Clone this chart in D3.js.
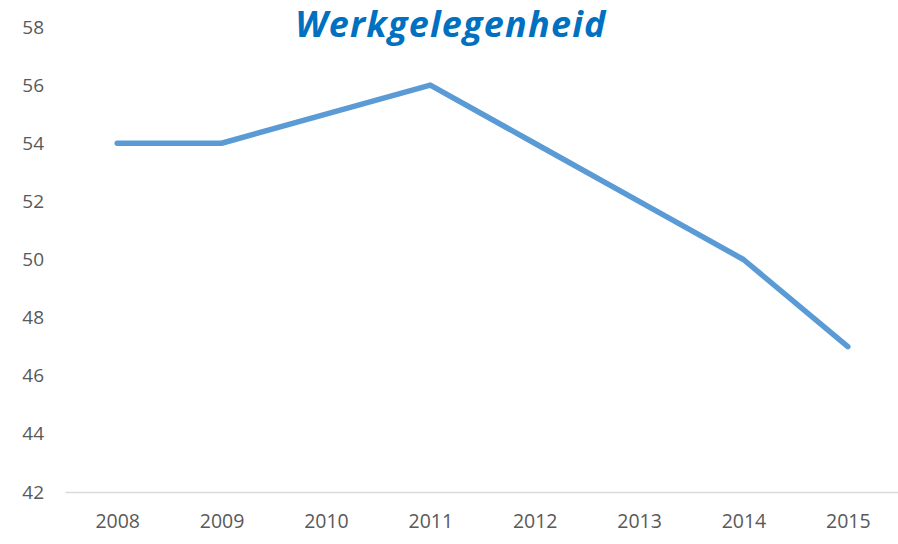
<!DOCTYPE html>
<html><head><meta charset="utf-8">
<script src="https://cdn.jsdelivr.net/npm/d3@7"></script>
<style>body{margin:0;background:#fff}svg{display:block}</style>
</head><body>
<svg id="c" width="898" height="544"></svg>
<script>
const years = ["2008","2009","2010","2011","2012","2013","2014","2015"];
const values = [54, 54, 55, 56, 54, 52, 50, 47];
const yTicks = [42, 44, 46, 48, 50, 52, 54, 56, 58];
const title = "Werkgelegenheid";

const svg = d3.select("#c");
const x = d3.scalePoint().domain(years).range([65, 900]).padding(0.5);
const y = d3.scaleLinear().domain([42, 58]).range([492, 27]);

svg.append("text").attr("x", 451).attr("y", 37).attr("text-anchor", "middle")
  .attr("font-family", "Open Sans, Noto Sans, sans-serif").attr("font-weight", "bold")
  .attr("font-style", "italic").attr("font-size", 36).attr("letter-spacing", 1.2)
  .attr("fill", "#0070C0").text(title);

const yAxis = svg.append("g").attr("transform", "translate(65,0)")
  .call(d3.axisLeft(y).tickValues(yTicks).tickSize(0).tickPadding(21));
yAxis.select(".domain").remove();
yAxis.selectAll("text").attr("font-family", "Open Sans, Noto Sans, sans-serif")
  .attr("font-size", 19).attr("fill", "#595959");

const xAxis = svg.append("g").attr("transform", "translate(0,492)")
  .call(d3.axisBottom(x).tickSize(0).tickPadding(22));
xAxis.select(".domain").attr("stroke", "#d9d9d9").attr("stroke-width", 1.5);
xAxis.selectAll("text").attr("font-family", "Open Sans, Noto Sans, sans-serif")
  .attr("font-size", 19.5).attr("fill", "#595959");

svg.append("path").datum(values)
  .attr("d", d3.line().x((d, i) => x(years[i])).y(d => y(d)))
  .attr("fill", "none").attr("stroke", "#5B9BD5").attr("stroke-width", 5.5)
  .attr("stroke-linecap", "round").attr("stroke-linejoin", "round");
</script>
</body></html>
